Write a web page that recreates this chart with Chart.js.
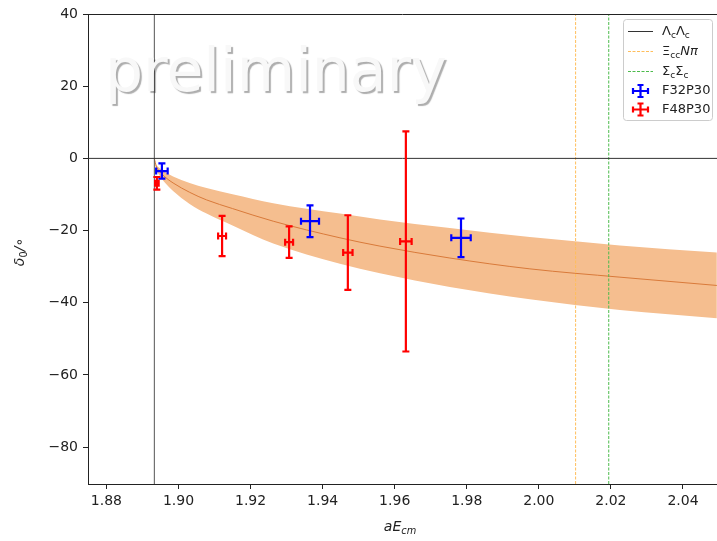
<!DOCTYPE html>
<html>
<head>
<meta charset="utf-8">
<script src="https://cdn.jsdelivr.net/npm/chart.js@4/dist/chart.umd.min.js"></script>
<style>
  body { margin: 0; background: #fff; }
  canvas { display: block; }
</style>
</head>
<body>
<canvas id="phase" width="717" height="541"></canvas>
<script>
const xTicks = [1.88, 1.90, 1.92, 1.94, 1.96, 1.98, 2.00, 2.02, 2.04];
const yTicks = [-80, -60, -40, -20, 0, 20, 40];
const xMin = 1.87489, xMax = 2.04944;
const yMin = -90.2, yMax = 40;

// two-particle thresholds
const lcLcThreshold = 1.8933;
const xiccNpiThreshold = 2.0102;
const scScThreshold = 2.0194;

// fit curve and its error band
const bandE     = [1.8933, 1.8938, 1.8948, 1.8962, 1.8985, 1.9031, 1.9078, 1.9150, 1.9263, 1.9448, 1.9559, 1.9753, 1.9975, 2.0225, 2.0494];
const bandUpper = [0, -1.6, -2.7, -3.7, -5.0, -6.8, -8.2, -9.9, -12.4, -15.3, -16.9, -19.3, -21.8, -24.1, -26.1];
const bandMid   = [0, -2.1, -3.6, -5.1, -6.8, -9.4, -11.5, -13.9, -17.4, -22.0, -24.3, -27.6, -30.6, -32.9, -35.2];
const bandLower = [0, -2.8, -4.8, -6.7, -9.0, -12.6, -15.3, -18.6, -23.6, -29.2, -31.8, -35.6, -39.0, -42.0, -44.3];

// lattice points
const f32E        = [1.8954, 1.9365, 1.9784];
const f32EErr     = [0.0016, 0.0025, 0.0027];
const f32Delta    = [-3.5, -17.4, -22.0];
const f32DeltaErr = [2.1, 4.4, 5.35];

const f48E        = [1.8940, 1.9121, 1.9307, 1.9470, 1.9631];
const f48EErr     = [0.0005, 0.0011, 0.0011, 0.0013, 0.0016];
const f48Delta    = [-6.9, -21.5, -23.2, -26.1, -23.0];
const f48DeltaErr = [1.75, 5.6, 4.35, 10.35, 30.5];

const series = [
  { label: "F32P30", color: "#0000ff", e: f32E, eErr: f32EErr, d: f32Delta, dErr: f32DeltaErr },
  { label: "F48P30", color: "#ff0000", e: f48E, eErr: f48EErr, d: f48Delta, dErr: f48DeltaErr },
];

const FONT = '"DejaVu Sans", sans-serif';
const INK = "#222";
const ORANGE = "#ffbe5c";
const GREEN = "#4cbb4c";

const pts = (xs, ys) => xs.map((x, i) => ({ x: x, y: ys[i] }));

// draws text pieces with optional subscript / italic
function drawRich(ctx, parts, x, y, size) {
  let cx = x;
  parts.forEach((p) => {
    const s = p.sub ? size * 0.7 : size;
    ctx.font = `${p.it ? "italic " : ""}${s}px ${FONT}`;
    ctx.fillText(p.t, cx, y + (p.sub ? size * 0.3 : 0));
    cx += ctx.measureText(p.t).width;
  });
  return cx - x;
}
function richWidth(ctx, parts, size) {
  let w = 0;
  parts.forEach((p) => {
    const s = p.sub ? size * 0.7 : size;
    ctx.font = `${p.it ? "italic " : ""}${s}px ${FONT}`;
    w += ctx.measureText(p.t).width;
  });
  return w;
}

function errorCross(ctx, px, pxL, pxR, py, pyT, pyB, cap) {
  ctx.beginPath();
  ctx.moveTo(pxL, py); ctx.lineTo(pxR, py);
  ctx.moveTo(px, pyT); ctx.lineTo(px, pyB);
  ctx.moveTo(px - cap, pyT); ctx.lineTo(px + cap, pyT);
  ctx.moveTo(px - cap, pyB); ctx.lineTo(px + cap, pyB);
  ctx.moveTo(pxL, py - cap); ctx.lineTo(pxL, py + cap);
  ctx.moveTo(pxR, py - cap); ctx.lineTo(pxR, py + cap);
  ctx.stroke();
}

const errorBars = {
  id: "errorBars",
  afterDatasetsDraw(chart) {
    const { ctx, chartArea: a, scales: { x, y } } = chart;
    ctx.save();
    ctx.beginPath();
    ctx.rect(a.left, a.top, a.right - a.left, a.bottom - a.top);
    ctx.clip();
    ctx.lineWidth = 2.2;
    series.forEach((s) => {
      ctx.strokeStyle = s.color;
      s.e.forEach((e, i) => {
        errorCross(ctx,
          x.getPixelForValue(e),
          x.getPixelForValue(e - s.eErr[i]),
          x.getPixelForValue(e + s.eErr[i]),
          y.getPixelForValue(s.d[i]),
          y.getPixelForValue(s.d[i] + s.dErr[i]),
          y.getPixelForValue(s.d[i] - s.dErr[i]),
          3.5);
      });
    });
    ctx.restore();
  },
};

const decorations = {
  id: "decorations",
  afterDraw(chart) {
    const { ctx, chartArea: a } = chart;
    ctx.save();

    // watermark
    ctx.font = `60px ${FONT}`;
    ctx.textBaseline = "alphabetic";
    ctx.textAlign = "left";
    ctx.shadowColor = "rgba(0,0,0,0.32)";
    ctx.shadowOffsetX = 2;
    ctx.shadowOffsetY = 2;
    ctx.shadowBlur = 1;
    ctx.fillStyle = "#f8f8f8";
    ctx.fillText("preliminary", 105, 91);
    ctx.shadowColor = "transparent";

    // top spine
    ctx.strokeStyle = INK;
    ctx.lineWidth = 1;
    ctx.beginPath();
    ctx.moveTo(a.left, a.top + 0.5);
    ctx.lineTo(a.right, a.top + 0.5);
    ctx.stroke();

    // axis titles
    ctx.fillStyle = INK;
    ctx.textBaseline = "middle";
    const xt = [{ t: "aE", it: true }, { t: "cm", it: true, sub: true }];
    drawRich(ctx, xt, 400 - richWidth(ctx, xt, 14) / 2, 527, 14);
    const yt = [{ t: "δ", it: true }, { t: "0", sub: true }, { t: "/∘", it: true }];
    ctx.translate(20, 252);
    ctx.rotate(-Math.PI / 2);
    drawRich(ctx, yt, -richWidth(ctx, yt, 14) / 2, 0, 14);
    ctx.setTransform(1, 0, 0, 1, 0, 0);

    // legend
    const lx = 623, ly = 19, lw = 89, lh = 101;
    ctx.fillStyle = "rgba(255,255,255,0.85)";
    ctx.strokeStyle = "#cccccc";
    ctx.lineWidth = 1;
    ctx.beginPath();
    ctx.roundRect(lx + 0.5, ly + 0.5, lw, lh, 3);
    ctx.fill();
    ctx.stroke();

    const rows = [
      { y: 31.5, line: "#333333", dash: [], text: [{ t: "Λ" }, { t: "c", sub: true }, { t: "Λ" }, { t: "c", sub: true }] },
      { y: 51.5, line: ORANGE, dash: [3, 1.5], text: [{ t: "Ξ" }, { t: "cc", sub: true }, { t: "N", it: true }, { t: "π", it: true }] },
      { y: 71.5, line: GREEN, dash: [3, 1.5], text: [{ t: "Σ" }, { t: "c", sub: true }, { t: "Σ" }, { t: "c", sub: true }] },
    ];
    rows.forEach((r) => {
      ctx.strokeStyle = r.line;
      ctx.setLineDash(r.dash);
      ctx.lineWidth = 1;
      ctx.beginPath();
      ctx.moveTo(628, r.y);
      ctx.lineTo(653, r.y);
      ctx.stroke();
      ctx.setLineDash([]);
      ctx.fillStyle = INK;
      drawRich(ctx, r.text, 662, r.y, 13);
    });
    series.forEach((s, i) => {
      const ry = 91 + i * 18.5;
      ctx.strokeStyle = s.color;
      ctx.lineWidth = 2.2;
      errorCross(ctx, 640.5, 633, 648, ry, ry - 6, ry + 6, 3);
      ctx.fillStyle = INK;
      ctx.font = `13px ${FONT}`;
      ctx.fillText(s.label, 662, ry);
    });
    ctx.restore();
  },
};

const refLine = (data, color, dash) => ({
  type: "line",
  data: data,
  borderColor: color,
  borderWidth: 1,
  borderDash: dash,
  pointRadius: 0,
  fill: false,
});

new Chart(document.getElementById("phase"), {
  type: "scatter",
  data: {
    datasets: [
      {
        type: "line",
        order: 3,
        data: pts(bandE, bandUpper),
        borderWidth: 0,
        pointRadius: 0,
        backgroundColor: "#f5be8f",
        fill: "+1",
        cubicInterpolationMode: "monotone",
      },
      {
        type: "line",
        order: 3,
        data: pts(bandE, bandLower),
        borderWidth: 0,
        pointRadius: 0,
        fill: false,
        cubicInterpolationMode: "monotone",
      },
      {
        type: "line",
        order: 2,
        data: pts(bandE, bandMid),
        borderColor: "#d97a3a",
        borderWidth: 1,
        pointRadius: 0,
        fill: false,
        cubicInterpolationMode: "monotone",
      },
      refLine([{ x: xMin, y: 0 }, { x: xMax, y: 0 }], "#333333", []),
      refLine([{ x: lcLcThreshold, y: yMin }, { x: lcLcThreshold, y: yMax }], "#555555", []),
      refLine([{ x: xiccNpiThreshold, y: yMin }, { x: xiccNpiThreshold, y: yMax }], ORANGE, [3, 1.5]),
      refLine([{ x: scScThreshold, y: yMin }, { x: scScThreshold, y: yMax }], GREEN, [3, 1.5]),
    ],
  },
  options: {
    responsive: false,
    animation: false,
    devicePixelRatio: 1,
    layout: { padding: { top: 14, right: 0, left: 0, bottom: 0 } },
    plugins: {
      legend: { display: false },
      tooltip: { enabled: false },
      filler: { drawTime: "beforeDatasetsDraw" },
    },
    scales: {
      x: {
        type: "linear",
        min: xMin,
        max: xMax,
        afterBuildTicks: (s) => { s.ticks = xTicks.map((v) => ({ value: v })); },
        afterFit: (s) => { s.height = 57; },
        grid: { drawOnChartArea: false, drawTicks: true, tickLength: 5, color: INK },
        border: { display: true, color: INK, width: 1 },
        ticks: {
          color: INK,
          padding: 4,
          maxRotation: 0,
          autoSkip: false,
          font: { family: FONT, size: 14 },
          callback: (v) => v.toFixed(2),
        },
      },
      y: {
        min: yMin,
        max: yMax,
        afterBuildTicks: (s) => { s.ticks = yTicks.map((v) => ({ value: v })); },
        afterFit: (s) => { s.width = 88; },
        grid: { drawOnChartArea: false, drawTicks: true, tickLength: 5, color: INK },
        border: { display: true, color: INK, width: 1 },
        ticks: {
          color: INK,
          padding: 5,
          autoSkip: false,
          font: { family: FONT, size: 14 },
          callback: (v) => (v < 0 ? "\u2212" + Math.abs(v) : String(v)),
        },
      },
    },
  },
  plugins: [errorBars, decorations],
});
</script>
</body>
</html>
